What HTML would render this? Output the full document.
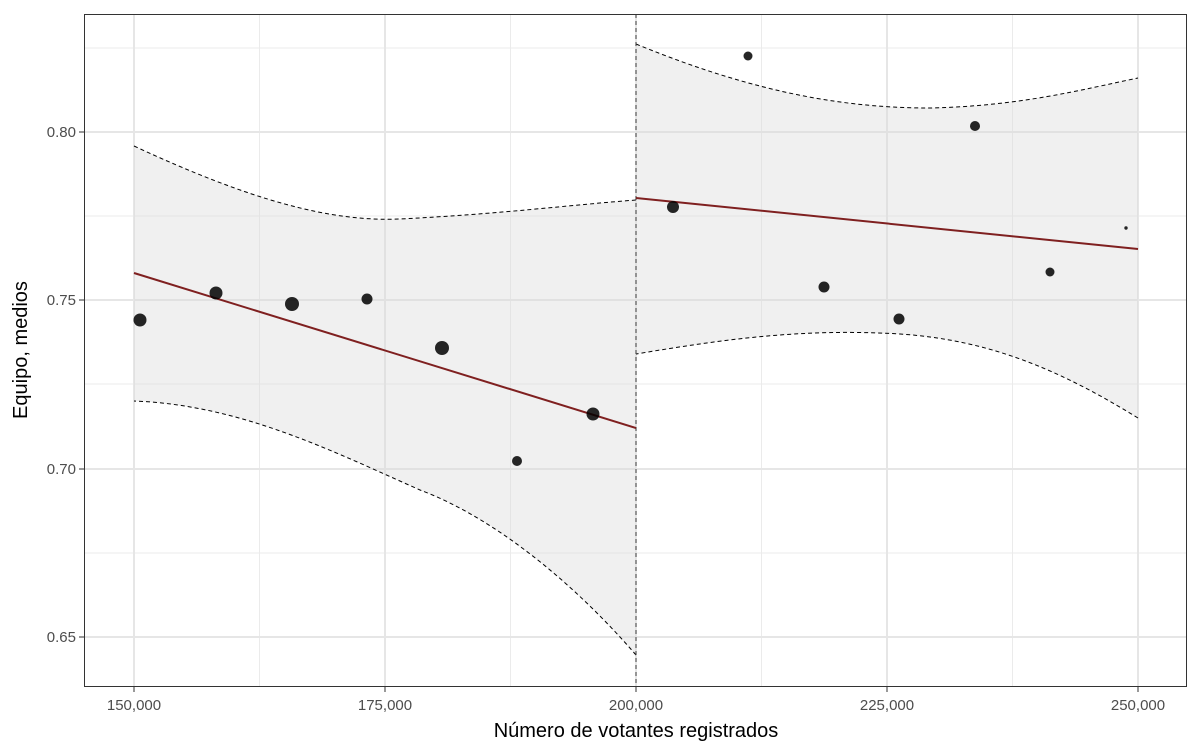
<!DOCTYPE html>
<html><head><meta charset="utf-8"><style>body{margin:0;background:#fff}svg{display:block}</style></head><body>
<svg width="1200" height="750" xmlns="http://www.w3.org/2000/svg" font-family="Liberation Sans, sans-serif">
<rect width="1200" height="750" fill="#fff"/>
<g stroke="#ebebeb" stroke-width="1">
<line x1="84" x2="1187" y1="553" y2="553"/><line x1="84" x2="1187" y1="384" y2="384"/><line x1="84" x2="1187" y1="216" y2="216"/><line x1="84" x2="1187" y1="48" y2="48"/>
<line y1="14" y2="687" x1="259.5" x2="259.5"/><line y1="14" y2="687" x1="510.5" x2="510.5"/><line y1="14" y2="687" x1="761.5" x2="761.5"/><line y1="14" y2="687" x1="1012.5" x2="1012.5"/>
</g>
<g stroke="#e6e6e6" stroke-width="2">
<line x1="84" x2="1187" y1="637" y2="637"/><line x1="84" x2="1187" y1="469" y2="469"/><line x1="84" x2="1187" y1="300" y2="300"/><line x1="84" x2="1187" y1="132" y2="132"/>
<line y1="14" y2="687" x1="134" x2="134"/><line y1="14" y2="687" x1="385" x2="385"/><line y1="14" y2="687" x1="636" x2="636"/><line y1="14" y2="687" x1="887" x2="887"/><line y1="14" y2="687" x1="1138" x2="1138"/>
</g>
<path d="M134,146 C250,200 330,222 400,219 C500,214 570,205 636,200 L636,655 C580,590 500,520 420,490 C330,450 240,405 134,401 Z" fill="#d9d9d9" fill-opacity="0.4"/>
<path d="M636,44 C760,95 850,108 930,108 C1020,106 1080,90 1138,78 L1138,418 C1060,370 990,340 900,334 C800,328 720,340 636,354 Z" fill="#d9d9d9" fill-opacity="0.4"/>
<g fill="none" stroke="#000" stroke-width="1" stroke-dasharray="4,3">
<path d="M134,146 C250,200 330,222 400,219 C500,214 570,205 636,200"/>
<path d="M636,655 C580,590 500,520 420,490 C330,450 240,405 134,401"/>
<path d="M636,44 C760,95 850,108 930,108 C1020,106 1080,90 1138,78"/>
<path d="M1138,418 C1060,370 990,340 900,334 C800,328 720,340 636,354"/>
<line x1="636" x2="636" y1="14" y2="687" stroke="#444"/>
</g>
<line x1="134" y1="273" x2="636" y2="428" stroke="#7f2020" stroke-width="2"/>
<line x1="636" y1="198" x2="1138" y2="249" stroke="#7f2020" stroke-width="2"/>
<g fill="#000" fill-opacity="0.85">
<circle cx="140" cy="320" r="6.5"/><circle cx="216" cy="293" r="6.5"/><circle cx="292" cy="304" r="7"/><circle cx="367" cy="299" r="5.5"/><circle cx="442" cy="348" r="7"/><circle cx="517" cy="461" r="5"/><circle cx="593" cy="414" r="6.5"/><circle cx="673" cy="207" r="6"/><circle cx="748" cy="56" r="4.5"/><circle cx="824" cy="287" r="5.5"/><circle cx="899" cy="319" r="5.5"/><circle cx="975" cy="126" r="5"/><circle cx="1050" cy="272" r="4.5"/><circle cx="1126" cy="228" r="1.7"/>
</g>
<rect x="84.5" y="14.5" width="1102" height="672" fill="none" stroke="#333" stroke-width="1"/>
<g stroke="#333"><line x1="79" x2="84" y1="637" y2="637"/><line x1="79" x2="84" y1="469" y2="469"/><line x1="79" x2="84" y1="300" y2="300"/><line x1="79" x2="84" y1="132" y2="132"/>
<line x1="134" x2="134" y1="687" y2="692"/><line x1="385" x2="385" y1="687" y2="692"/><line x1="636" x2="636" y1="687" y2="692"/><line x1="887" x2="887" y1="687" y2="692"/><line x1="1138" x2="1138" y1="687" y2="692"/></g>
<g fill="#4d4d4d" font-size="15" text-anchor="end"><text x="76" y="642">0.65</text><text x="76" y="474">0.70</text><text x="76" y="305">0.75</text><text x="76" y="137">0.80</text></g>
<g fill="#4d4d4d" font-size="15" text-anchor="middle"><text x="134" y="710">150,000</text><text x="385" y="710">175,000</text><text x="636" y="710">200,000</text><text x="887" y="710">225,000</text><text x="1138" y="710">250,000</text></g>
<text x="636" y="737" font-size="20" text-anchor="middle">Número de votantes registrados</text>
<text transform="translate(27,350) rotate(-90)" font-size="20" text-anchor="middle">Equipo, medios</text>
</svg>
</body></html>
